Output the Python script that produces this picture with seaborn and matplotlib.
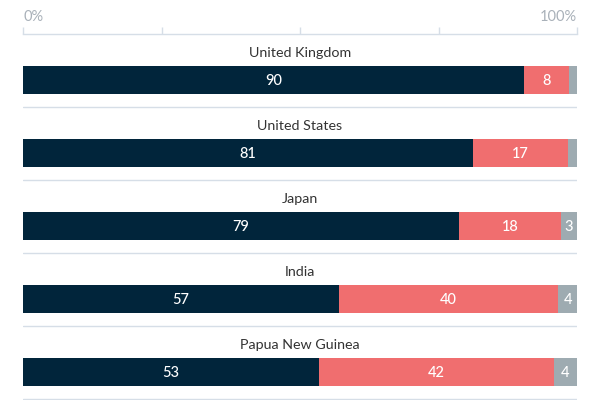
import matplotlib
matplotlib.use("Agg")
import matplotlib.pyplot as plt
import seaborn as sns
import pandas as pd
import numpy as np

countries = ["United Kingdom", "United States", "Japan", "India", "Papua New Guinea"]
series_a = [90.4, 81.2, 78.7, 57.0, 53.4]
series_b = [8.2, 17.2, 18.4, 39.6, 42.4]
series_c = [1.4, 1.6, 2.9, 3.6, 4.2]
labels_a = ["90", "81", "79", "57", "53"]
labels_b = ["8", "17", "18", "40", "42"]
labels_c = ["", "", "3", "4", "4"]

DARK = "#01253b"
RED = "#f06e6f"
GRAY = "#9eabb1"
LINE = "#d6dee7"

sns.set_theme(style="white")
plt.rcParams["font.family"] = ["Lato", "DejaVu Sans"]

df = pd.DataFrame({
    "country": countries,
    "a": series_a,
    "b": series_b,
    "c": series_c,
})
df["cum_b"] = df["a"] + df["b"]
df["cum_c"] = df["cum_b"] + df["c"]

fig = plt.figure(figsize=(6, 4), dpi=100)
ax = fig.add_axes([23 / 600, 0, 554 / 600, 366 / 400])

bw = 28 / 73
sns.barplot(data=df, y="country", x="cum_c", color=GRAY, width=bw, ax=ax,
            orient="h", saturation=1, linewidth=0, errorbar=None)
sns.barplot(data=df, y="country", x="cum_b", color=RED, width=bw, ax=ax,
            orient="h", saturation=1, linewidth=0, errorbar=None)
sns.barplot(data=df, y="country", x="a", color=DARK, width=bw, ax=ax,
            orient="h", saturation=1, linewidth=0, errorbar=None)

ax.set_xlim(0, 100)
ax.set_ylim(4 + 28 / 73, -46 / 73)

for i in range(len(countries)):
    starts = [0, series_a[i], series_a[i] + series_b[i]]
    widths = [series_a[i], series_b[i], series_c[i]]
    labs = [labels_a[i], labels_b[i], labels_c[i]]
    for s, w, lab in zip(starts, widths, labs):
        if lab:
            ax.text(s + w / 2, i + 0.01, lab, ha="center", va="center",
                    color="white", fontsize=10.5, fontweight="medium")
    ax.text(50, i - 27 / 73, countries[i], ha="center", va="center",
            color="#333333", fontsize=10.3)
    ax.axhline(i + 27.3 / 73, color=LINE, lw=1, zorder=0)

for sp in ["left", "right", "bottom"]:
    ax.spines[sp].set_visible(False)
ax.spines["top"].set_color(LINE)
ax.spines["top"].set_linewidth(1)

ax.xaxis.tick_top()
ax.set_xticks([0, 25, 50, 75, 100])
ax.set_xticklabels([])
ax.tick_params(axis="x", which="both", top=True, length=5.2, width=1,
               color=LINE, direction="out")
ax.set_yticks([])
ax.set_xlabel("")
ax.set_ylabel("")

trans = ax.get_xaxis_transform()
ax.text(0, 1 + 17 / 366, "0%", transform=trans, ha="left", va="center",
        color="#a9b1b9", fontsize=10.5)
ax.text(100, 1 + 17 / 366, "100%", transform=trans, ha="right", va="center",
        color="#a9b1b9", fontsize=10.5)

fig.savefig("out.png", dpi=100)
